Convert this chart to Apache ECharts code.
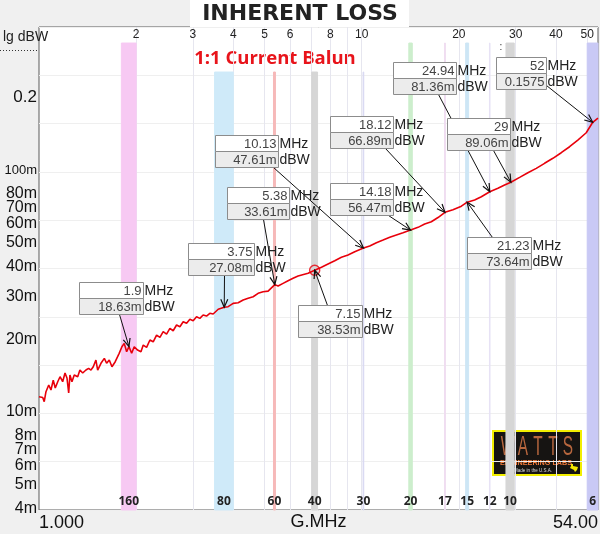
<!DOCTYPE html>
<html>
<head>
<meta charset="utf-8">
<title>Inherent Loss</title>
<script src="https://cdn.jsdelivr.net/npm/echarts@6/dist/echarts.min.js"></script>
<style>
html, body { margin: 0; padding: 0; background: #f0f0f0; }
#chart { width: 600px; height: 534px; }
</style>
</head>
<body>
<div id="chart"></div>
<script>
// sweep of the balun (MHz / mdBW)
var freqs = [1.000, 1.027, 1.038, 1.051, 1.072, 1.089, 1.107, 1.123, 1.143, 1.162, 1.184, 1.204, 1.221, 1.236,
  1.247, 1.265, 1.286, 1.318, 1.339, 1.366, 1.398, 1.425, 1.449, 1.473, 1.501,
  1.520, 1.556, 1.594, 1.620, 1.651, 1.683, 1.723, 1.772, 1.807, 1.837, 1.869,
  1.900, 1.937, 1.973, 2.021, 2.070, 2.104, 2.155,
  2.207, 2.259, 2.314, 2.370, 2.426, 2.485, 2.545, 2.605, 2.669, 2.733, 2.798, 2.867, 2.935, 3.005,
  3.078, 3.151, 3.226, 3.305, 3.384, 3.465, 3.592, 3.750,
  3.856, 3.997, 4.142, 4.292, 4.448, 4.609, 4.776, 4.949, 5.129, 5.380,
  5.507, 5.707, 5.914, 6.129, 6.352, 6.822, 7.150,
  7.505, 7.866, 8.250, 8.654, 9.072, 9.516, 10.13,
  10.59, 11.11, 11.65, 12.22, 12.81, 13.43, 14.18,
  14.95, 15.68, 16.44, 17.24, 18.12,
  19.18, 20.37, 21.23, 22.39, 23.49, 24.94, 26.44, 27.73, 29.00,
  30.87, 32.74, 34.76, 36.88, 39.14, 41.54, 44.09, 46.76, 49.65, 52.00, 54.00]
var lossMilli = [11.57, 11.49, 11.03, 12.13, 12.93, 12.33, 13.55, 12.56, 13.34, 13.99, 13.34, 14.49, 13.82, 11.98,
  14.22, 13.34, 14.22, 13.99, 14.91, 14.49, 14.91, 15.15, 14.91, 15.39, 16.40,
  14.91, 15.90, 16.66, 15.90, 16.40, 15.39, 16.14, 17.48, 18.61, 19.22, 17.74,
  18.63, 17.48, 18.61, 18.03, 17.74, 18.91, 18.51,
  19.84, 19.51, 20.80, 20.35, 21.47, 21.00, 22.17, 21.67, 22.88, 22.51, 23.61, 23.25, 24.15, 23.83,
  24.75, 24.38, 25.16, 24.92, 25.58, 25.41, 26.58, 27.08,
  27.24, 28.12, 28.29, 29.02, 29.50, 29.95, 30.93, 31.41, 31.59, 33.61,
  33.17, 34.02, 34.88, 35.69, 36.48, 37.42, 38.53,
  39.62, 40.89, 42.19, 43.58, 44.54, 45.96, 47.61,
  48.53, 50.08, 51.37, 52.71, 53.87, 55.06, 56.47,
  57.96, 59.81, 61.14, 63.64, 66.89,
  68.50, 70.90, 73.64, 75.16, 77.57, 81.36, 84.03, 86.70, 89.06,
  93.28, 97.46, 101.6, 106.6, 111.8, 117.9, 124.8, 133.0, 142.6, 157.5, 164.0]

// cursor read-outs
var markFreqs = [1.9, 3.75, 5.38, 7.15, 10.13, 14.18, 18.12, 21.23, 24.94, 29, 52]
var markLoss = [0.01863, 0.02708, 0.03361, 0.03853, 0.04761, 0.05647, 0.06689, 0.07364, 0.08136, 0.08906, 0.1575]

// ham bands
var bandNames = ['160', '80', '60', '40', '30', '20', '17', '15', '12', '10', '6']
var bandLow = [1.8, 3.5, 5.33, 7.0, 10.1, 14.0, 18.068, 21.0, 24.89, 28.0, 50]
var bandHigh = [2.0, 4.0, 5.405, 7.3, 10.15, 14.35, 18.168, 21.45, 24.99, 29.7, 54]

// axis labels
var yTicks = [0.004, 0.005, 0.006, 0.007, 0.008, 0.01, 0.02, 0.03, 0.04, 0.05, 0.06, 0.07, 0.08, 0.1, 0.2]
var topTicks = [2, 3, 4, 5, 6, 8, 10, 20, 30, 40, 50]
var gridFreqs = [2, 3, 4, 5, 6, 7, 8, 9, 10, 20, 30, 40, 50]

var X_MIN = 1, X_MAX = 54
var Y_MIN = 0.003936, Y_MAX = 0.390

// look
var bandColors = ['#f7c9f3', '#cfeaf9', '#f6b9b9', '#d6d6d6', '#d9d9f2', '#cdeecd', '#efdcf0', '#cde6f5', '#e6e2f5', '#d6d6d6', '#c9c9f5']
var bandTop = [0.3348, 0.2541, 0.2541, 0.2541, 0.2541, 0.3348, 0.3348, 0.3348, 0.3348, 0.3348, 0.3348]
// box offset from point x, y, box width, arrow start x, y (relative to box)
var noteBoxes = [
  [-50, -65, 64, 40, 32],
  [-36, -64, 66, 36, 32],
  [-48, -98, 62, 36, 32],
  [-17, 35, 64, 29, 0],
  [-148, -113, 63, 58, 32],
  [-81, -47, 63, 58, 32],
  [-115, -96, 63, 55, 32],
  [0, 35, 64, 25, 0],
  [-97, -130, 63, 45, 32],
  [-64, -64, 63, 46, 32],
  [-97, -65, 50, 50, 28]
]

var LG = Math.log10
var FONT = '"Liberation Sans", Arial, sans-serif'

var curve = freqs.map(function (f, i) { return [f, lossMilli[i] / 1000] })
var notes = markFreqs.map(function (f, i) { return [f, markLoss[i]] })

var bandAreas = bandNames.map(function (name, i) {
  return [{
    name: name,
    xAxis: bandLow[i], yAxis: bandTop[i],
    itemStyle: { color: bandColors[i], borderColor: bandColors[i], borderWidth: 1 }
  }, {
    xAxis: bandHigh[i], yAxis: Y_MIN
  }]
})

function fmtLoss(v) {
  return v < 0.1 ? (v * 1000).toFixed(2) + 'm' : v.toFixed(4)
}

function renderNote(params, api) {
  var i = params.dataIndex
  var p = api.coord([api.value(0), api.value(1)])
  var b = noteBoxes[i]
  var bx = Math.round(p[0] + b[0]) + 0.5
  var by = Math.round(p[1] + b[1]) + 0.5
  var bw = b[2]
  var sx = bx + b[3], sy = by + b[4]
  var ang = Math.atan2(p[1] - sy, p[0] - sx)
  var hl = 8, hw = 3.5
  var back = [p[0] - hl * Math.cos(ang), p[1] - hl * Math.sin(ang)]
  var l = [back[0] + hw * Math.sin(ang), back[1] - hw * Math.cos(ang)]
  var r = [back[0] - hw * Math.sin(ang), back[1] + hw * Math.cos(ang)]
  return {
    type: 'group',
    children: [
      { type: 'line', z2: 1, shape: { x1: sx, y1: sy, x2: p[0], y2: p[1] }, style: { stroke: '#111', lineWidth: 1 } },
      { type: 'polyline', z2: 1, shape: { points: [l, p, r] }, style: { stroke: '#111', lineWidth: 1.2, fill: null } },
      { type: 'rect', z2: 10, shape: { x: bx, y: by, width: bw, height: 16 }, style: { fill: '#fff', stroke: '#8c8c8c', lineWidth: 1 } },
      { type: 'rect', z2: 10, shape: { x: bx, y: by + 16, width: bw, height: 16 }, style: { fill: '#ececec', stroke: '#8c8c8c', lineWidth: 1 } },
      { type: 'text', z2: 11, x: bx + bw - 2, y: by + 8.5, style: { text: String(markFreqs[i]), font: '13px ' + FONT, fill: '#444', align: 'right', verticalAlign: 'middle' } },
      { type: 'text', z2: 11, x: bx + bw - 2, y: by + 24.5, style: { text: fmtLoss(markLoss[i]), font: '13px ' + FONT, fill: '#444', align: 'right', verticalAlign: 'middle' } },
      { type: 'text', z2: 11, x: bx + bw + 1, y: by + 8.5, style: { text: 'MHz', font: '14px ' + FONT, fill: '#222', align: 'left', verticalAlign: 'middle' } },
      { type: 'text', z2: 11, x: bx + bw + 1, y: by + 24.5, style: { text: 'dBW', font: '14px ' + FONT, fill: '#222', align: 'left', verticalAlign: 'middle' } }
    ]
  }
}

// logo lettering, one glyph at a time
var logoLetters = ['W', 'A', 'T', 'T', 'S'].map(function (ch, i) {
  return {
    type: 'text', x: 15 + i * 15, y: 16, scaleX: 0.55,
    style: {
      text: ch, font: '28px "Liberation Sans", sans-serif', fill: '#b8673e',
      align: 'center', verticalAlign: 'middle', shadowColor: '#ff8a30', shadowBlur: 4
    }
  }
})

var chart = echarts.init(document.getElementById('chart'))
chart.setOption({
  backgroundColor: '#f0f0f0',
  animation: false,
  grid: {
    left: 39, top: 27, right: 2, bottom: 24,
    outerBoundsMode: 'none',
    containLabel: false,
    show: true, backgroundColor: '#fff', borderColor: '#5a5a5a', borderWidth: 1
  },
  xAxis: [{
    type: 'log', logBase: 10, min: X_MIN, max: X_MAX, show: false
  }, {
    type: 'value', position: 'bottom', min: 0, max: LG(X_MAX),
    axisLine: { show: false },
    axisTick: { show: false, customValues: gridFreqs.map(LG) },
    splitLine: { show: true, lineStyle: { color: '#e6e6ef', width: 1 } },
    axisLabel: {
      customValues: [0, LG(X_MAX)],
      alignMinLabel: 'left', alignMaxLabel: 'right',
      margin: 4, fontSize: 18, color: '#111', fontFamily: FONT,
      formatter: function (v) { return Math.pow(10, v).toPrecision(4) }
    },
    name: 'G.MHz', nameLocation: 'middle', nameGap: 3, nameMoveOverlap: false,
    nameTextStyle: { fontSize: 18, color: '#111', fontFamily: FONT }
  }, {
    type: 'value', position: 'top', min: 0, max: LG(X_MAX),
    axisLine: { show: false },
    axisTick: { show: false },
    splitLine: { show: false },
    axisLabel: {
      inside: true, margin: 2,
      customValues: topTicks.map(LG),
      fontSize: 12, color: '#222', fontFamily: FONT,
      formatter: function (v) { return Math.round(Math.pow(10, v)) }
    }
  }],
  yAxis: [{
    type: 'log', logBase: 10, min: Y_MIN, max: Y_MAX, show: false, position: 'right'
  }, {
    type: 'value', position: 'left', min: LG(Y_MIN), max: LG(Y_MAX),
    axisLine: { show: false },
    axisTick: { show: false },
    splitLine: { show: false },
    axisLabel: {
      customValues: yTicks.map(LG),
      margin: 2, fontSize: 16, color: '#111', fontFamily: FONT,
      formatter: function (v) {
        var x = Math.pow(10, v)
        if (x > 0.15) return '{b|' + Math.round(x * 10) / 10 + '}'
        if (x > 0.095) return '{s|100m}'
        return Math.round(x * 1000) + 'm'
      },
      rich: {
        b: { fontSize: 17, color: '#111', fontFamily: FONT },
        s: { fontSize: 13, color: '#111', fontFamily: FONT }
      }
    }
  }, {
    type: 'value', position: 'right', min: 0, max: 10, interval: 1,
    axisLine: { show: false }, axisTick: { show: false }, axisLabel: { show: false },
    splitLine: { show: true, lineStyle: { color: '#efefef', width: 1 } }
  }],
  series: [{
    name: 'bands',
    type: 'line',
    data: [],
    z: 1,
    markArea: {
      silent: true,
      label: {
        show: true, position: 'insideBottom', distance: 3,
        fontSize: 12, fontWeight: 'bold', color: '#222', fontFamily: '"Open Sans", ' + FONT
      },
      data: bandAreas
    }
  }, {
    name: 'loss',
    type: 'line',
    data: curve,
    z: 3,
    showSymbol: false,
    symbol: 'none',
    lineStyle: { color: '#e8000b', width: 1.6 }
  }, {
    name: 'marker',
    type: 'scatter',
    data: [[7.15, 0.03853]],
    z: 4,
    symbol: 'circle',
    symbolSize: 10,
    itemStyle: { color: 'rgba(0,0,0,0)', borderColor: '#e8000b', borderWidth: 1.5 }
  }, {
    name: 'notes',
    type: 'custom',
    data: notes,
    z: 5,
    encode: { x: 0, y: 1 },
    renderItem: renderNote
  }],
  graphic: [
    { type: 'rect', x: 190, y: 0, shape: { width: 219, height: 27 }, style: { fill: '#fff' } },
    { type: 'text', x: 300, y: 14, style: { text: 'INHERENT LOSS', font: 'bold 22px "DejaVu Sans", sans-serif', fill: '#222', align: 'center', verticalAlign: 'middle' } },
    { type: 'text', x: 275, y: 59, style: { text: '1:1 Current Balun', font: 'bold 18.5px "Open Sans", sans-serif', fill: '#e8141b', align: 'center', verticalAlign: 'middle' } },
    { type: 'text', x: 3, y: 37, style: { text: 'lg dBW', font: '14px "Liberation Sans Narrow", ' + FONT, fill: '#222', align: 'left', verticalAlign: 'middle' } },
    { type: 'line', shape: { x1: 0, y1: 50.5, x2: 38, y2: 50.5 }, style: { stroke: '#333', lineWidth: 1, lineDash: [1, 2] } },
    { type: 'text', x: 501, y: 47, style: { text: ':', font: '10px ' + FONT, fill: '#333', align: 'center', verticalAlign: 'middle' } },
    {
      type: 'group', x: 493, y: 431,
      children: [
        { type: 'rect', shape: { x: 0, y: 0, width: 88, height: 44 }, style: { fill: '#161412', stroke: '#f2ee00', lineWidth: 2 } }
      ].concat(logoLetters).concat([
        { type: 'text', x: 43, y: 32, scaleX: 0.9, style: { text: 'ENGINEERING LABS', font: 'bold 8px "Liberation Sans", sans-serif', fill: '#f07a3a', align: 'center', verticalAlign: 'middle' } },
        { type: 'text', x: 40, y: 39.5, style: { text: 'Made in the U.S.A.', font: '4.5px "Liberation Sans", sans-serif', fill: '#ddd', align: 'center', verticalAlign: 'middle' } },
        { type: 'polygon', shape: { points: [[78, 33], [80, 33], [80, 35], [85, 36], [84, 39], [82, 41], [81, 39], [79, 38], [77, 37], [78, 35]] }, style: { fill: '#f2e600' } }
      ])
    }
  ]
})
window.onresize = function () { chart.resize() }
</script>
</body>
</html>
